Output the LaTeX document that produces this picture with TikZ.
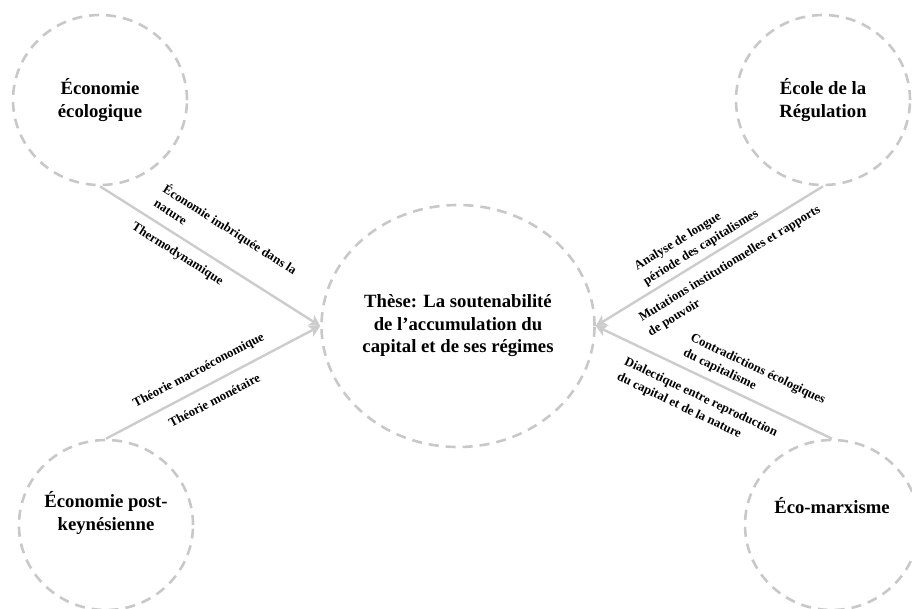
\documentclass[tikz,border=0pt]{standalone}
\usepackage{fontspec}
\setmainfont{Liberation Serif}
\usetikzlibrary{shapes.geometric, arrows.meta}
\definecolor{ringGray}{RGB}{200, 200, 200}
\definecolor{linkGray}{RGB}{204, 204, 204}
\tikzset{
    % Base style for the dashed rings
    ring/.style={
        ellipse,
        draw=ringGray,
        line width=2.6pt,
        dash pattern=on 10pt off 7pt,
        inner sep=0pt,
        align=center,
        font=\bfseries\fontsize{18.7}{22.5}\selectfont
    },
    % Specific styles
    schoolRing/.style={ring, minimum width=174pt, minimum height=170pt},
    thesisRing/.style={ring, minimum width=273pt, minimum height=242pt},
    % Arrow and Label styles
    arrow/.style={-{Stealth[length=11pt, width=12pt, inset=3pt]}, line width=2.4pt, draw=linkGray},
    edgeLabel/.style={sloped, align=left, inner sep=1pt, font=\bfseries\fontsize{12.8}{17}\selectfont}
}

\begin{document}
\begin{tikzpicture}[x=1pt, y=1pt]

    \useasboundingbox (0,0) rectangle (912,608);

    % --- CENTRE (Thesis) ---
    \node (these) [thesisRing] at (458,282) {
        Thèse: La soutenabilité\\
        de l’accumulation du\\
        capital et de ses régimes
    };

    % --- SCHOOLS (four corners) ---
    \node (ecoEco) [schoolRing] at (100,508) {Économie\\écologique};
    \node (regulation) [schoolRing] at (823,508) {École de la\\Régulation};
    \node (postKeynes) [schoolRing, text depth=28pt] at (106,83) {Économie post-\\keynésienne};
    \node (ecoMarx) [schoolRing, text depth=40pt] at (832,83) {Éco-marxisme};

    % --- Arrows (towards the thesis) ---
    \draw [arrow] (ecoEco.south) --
        node [edgeLabel, pos=.51, above=9.5pt] {Économie imbriquée dans la\\nature}
        node [edgeLabel, pos=.39, below=8pt] {Thermodynamique}
        (these.west);
    \draw [arrow] (postKeynes.north) --
        node [edgeLabel, pos=.47, above=8.8pt] {Théorie macroéconomique}
        node [edgeLabel, pos=.47, below=9.8pt] {Théorie monétaire}
        (these.west);
    \draw [arrow] (regulation.south) --
        node [edgeLabel, pos=.51, above=3.5pt] {Analyse de longue\\période des capitalismes}
        node [edgeLabel, pos=.45, below=9.5pt] {Mutations institutionnelles et rapports\\de pouvoir}
        (these.east);
    \draw [arrow] (ecoMarx.north) --
        node [edgeLabel, pos=.37, above=5.5pt] {Contradictions écologiques\\du capitalisme}
        node [edgeLabel, pos=.52, below=11.5pt] {Dialectique entre reproduction\\du capital et de la nature}
        (these.east);

\end{tikzpicture}
\end{document}
